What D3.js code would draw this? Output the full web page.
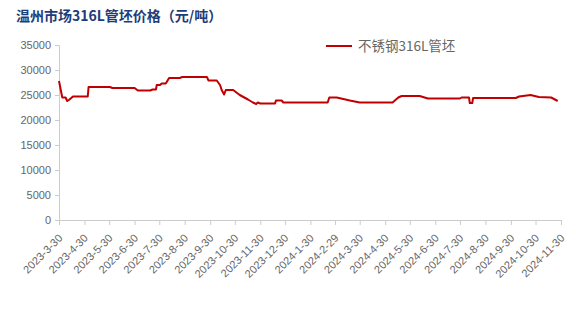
<!DOCTYPE html>
<html><head>
<meta charset="utf-8">
<script src="https://d3js.org/d3.v7.min.js"></script>
<style>
  body { margin: 0; background: #fff; }
  text { font-family: "Liberation Sans", Arial, "Noto Sans CJK SC", sans-serif; }
</style>
</head>
<body>
<svg id="chart" width="576" height="330"></svg>
<script>

// Price readings (yuan/ton), step changes
const dates = [
  "2023-03-30","2023-04-03","2023-04-07","2023-04-09","2023-04-11","2023-04-16","2023-05-04","2023-05-05",
  "2023-05-31","2023-06-03","2023-06-30","2023-07-04","2023-07-19","2023-07-22","2023-07-26","2023-07-27",
  "2023-07-31","2023-08-02","2023-08-07","2023-08-11","2023-08-24","2023-08-27","2023-09-26","2023-09-28",
  "2023-10-08","2023-10-12","2023-10-14","2023-10-17","2023-10-19","2023-10-28","2023-11-05","2023-11-15",
  "2023-11-21","2023-11-25","2023-11-27","2023-11-30","2023-12-18","2023-12-19","2023-12-26","2023-12-28",
  "2024-02-20","2024-02-22","2024-03-02","2024-03-18","2024-03-30","2024-05-09","2024-05-16","2024-05-20",
  "2024-06-11","2024-06-21","2024-07-30","2024-08-01","2024-08-10","2024-08-11","2024-08-14","2024-08-15",
  "2024-10-06","2024-10-10","2024-10-24","2024-11-03","2024-11-18","2024-11-26"
];
const prices = [
  27800,24500,24500,23800,24000,24700,24700,26600,
  26600,26400,26400,25900,25900,26100,26100,27000,
  27000,27300,27300,28400,28400,28600,28600,27900,
  27900,27000,26000,25100,26000,26000,25000,24100,
  23500,23200,23500,23300,23300,23900,23900,23500,
  23500,24500,24500,23900,23500,23500,24500,24800,
  24800,24300,24300,24500,24500,23400,23400,24400,
  24400,24700,25000,24600,24500,23800
];
const tickLabels = [
  "2023-3-30","2023-4-30","2023-5-30","2023-6-30","2023-7-30","2023-8-30","2023-9-30",
  "2023-10-30","2023-11-30","2023-12-30","2024-1-30","2024-2-29","2024-3-30","2024-4-30",
  "2024-5-30","2024-6-30","2024-7-30","2024-8-30","2024-9-30","2024-10-30","2024-11-30"
];
const yTicks = [0,5000,10000,15000,20000,25000,30000,35000];
const seriesName = "不锈钢316L管坯";
const title = "温州市场316L管坯价格（元/吨）";

const svg = d3.select("#chart");
const plotLeft = 59, plotRight = 561, plotTop = 45, plotBottom = 220;
const parse = d3.timeParse("%Y-%m-%d");

const data = dates.map((d, i) => ({date: parse(d), price: prices[i]}));
const tickDates = tickLabels.map(t => parse(t));

const x = d3.scaleTime().domain([tickDates[0], tickDates[tickDates.length-1]]).range([plotLeft, plotRight]);
const y = d3.scaleLinear().domain([0, 35000]).range([plotBottom, plotTop]);

// title
svg.append("text").attr("x", 16).attr("y", 21)
   .attr("font-size", 14).attr("font-weight", "bold").attr("fill", "#1f3c78")
   .style("font-family", "'Noto Sans CJK SC', sans-serif")
   .text(title);

// y axis
const yAxis = svg.append("g").attr("transform", "translate(" + plotLeft + ",0)")
   .call(d3.axisLeft(y).tickValues(yTicks).tickSize(4).tickPadding(4).tickFormat(d3.format("d")));
yAxis.select(".domain").attr("stroke", "#ccc");
yAxis.selectAll(".tick line").attr("stroke", "#ccc");
yAxis.selectAll(".tick text").attr("fill", "#666").attr("font-size", 11)
   .style("font-family", "'Liberation Sans', Arial, sans-serif");

// x axis, labels turned 45 degrees
const xAxis = svg.append("g").attr("transform", "translate(0," + plotBottom + ")")
   .call(d3.axisBottom(x).tickValues(tickDates).tickSize(5).tickFormat((d, i) => tickLabels[i]));
xAxis.select(".domain").attr("stroke", "#ccc");
xAxis.selectAll(".tick line").attr("stroke", "#ccc");
xAxis.selectAll(".tick text").attr("fill", "#666").attr("font-size", 11)
   .style("font-family", "'Liberation Sans', Arial, sans-serif")
   .attr("text-anchor", "end")
   .attr("x", 0).attr("y", 0)
   .attr("dy", "0.35em")
   .attr("transform", "translate(1,16) rotate(-45)");

// line
const line = d3.line().x(d => x(d.date)).y(d => y(d.price));
svg.append("path").datum(data)
   .attr("d", line).attr("fill", "none")
   .attr("stroke", "#c00000").attr("stroke-width", 2).attr("stroke-linejoin", "round");

// legend
svg.append("line").attr("x1", 326).attr("x2", 352).attr("y1", 46).attr("y2", 46)
   .attr("stroke", "#c00000").attr("stroke-width", 2);
svg.append("text").attr("x", 358).attr("y", 51).attr("font-size", 13.5).attr("fill", "#666")
   .style("font-family", "'Noto Sans CJK SC', sans-serif")
   .text(seriesName);

</script>
</body>
</html>
